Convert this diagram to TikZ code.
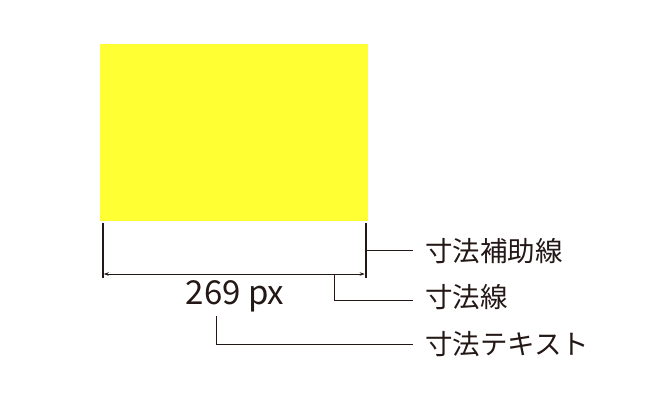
\documentclass[tikz,border=0pt]{standalone}
\usepackage{fontspec}
\setmainfont{Noto Sans CJK JP}
\usepackage{xcolor}
\usetikzlibrary{arrows.meta}

\definecolor{inkline}{HTML}{231815}
\definecolor{boxyellow}{HTML}{FFFF33}

\tikzset{
  extline/.style={draw=inkline, line width=2pt},
  dimline/.style={draw=inkline, line width=1pt,
    {Stealth[length=5pt,width=3.5pt]}-{Stealth[length=5pt,width=3.5pt]}},
  leader/.style={draw=inkline, line width=1pt},
  callout/.style={anchor=west, inner sep=0pt, text=inkline,
    font=\fontsize{27.5}{30}\selectfont},
}

\begin{document}
\begin{tikzpicture}[x=1pt,y=-1pt]
        \useasboundingbox (0,0) rectangle (668,400);
        % Object being measured
        \node (box) [fill=boxyellow, inner sep=0pt, minimum width=268pt,
          minimum height=177pt] at (234,132.5) {};
        % Extension lines
        \coordinate (extLtop) at (102.7,223);
        \coordinate (extLbot) at (102.7,278);
        \coordinate (extRtop) at (365.7,223);
        \coordinate (extRbot) at (365.7,278);
        \draw [extline] (extLtop) -- (extLbot);
        \draw [extline] (extRtop) -- (extRbot);
        % Dimension line
        \coordinate (dimL) at (103.7,274);
        \coordinate (dimR) at (364.7,274);
        \draw [dimline] (dimL) -- (dimR);
        % Dimension text
        \node (dimtext) at (235,296) [inner sep=0pt, text=inkline,
          font=\fontsize{33}{36}\selectfont] {269 px};
        % Callouts
        \coordinate (extTap) at (365.7,250.5);
        \coordinate (extEnd) at (413,250.5);
        \coordinate (dimTap) at (334.5,274);
        \coordinate (dimEnd) at (413,300.5);
        \coordinate (txtTap) at (216.7,316);
        \coordinate (txtEnd) at (413,344);
        \draw [leader] (extTap) -- (extEnd);
        \draw [leader] (dimTap) |- (dimEnd);
        \draw [leader] (txtTap) |- (txtEnd);
        \node (extlabel) [callout] at (425,251.5) {寸法補助線};
        \node (dimlabel) [callout] at (425,297) {寸法線};
        \node (txtlabel) [callout] at (425,344.5) {寸法テキスト};
\end{tikzpicture}
\end{document}
